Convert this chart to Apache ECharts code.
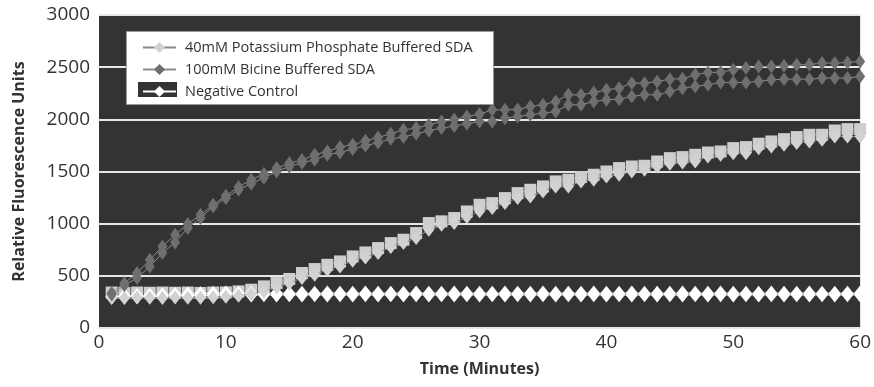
<!DOCTYPE html>
<html>
<head>
<meta charset="utf-8">
<script src="https://cdn.jsdelivr.net/npm/echarts@6/dist/echarts.min.js"></script>
<style>
  html, body { margin: 0; padding: 0; background: #fff; }
  #chart { width: 874px; height: 387px; }
</style>
</head>
<body>
<div id="chart"></div>
<script>
// sampling times (minutes)
const minutes = [1, 2, 3, 4, 5, 6, 7, 8, 9, 10, 11, 12, 13, 14, 15, 16, 17, 18, 19, 20,
  21, 22, 23, 24, 25, 26, 27, 28, 29, 30, 31, 32, 33, 34, 35, 36, 37, 38, 39, 40,
  41, 42, 43, 44, 45, 46, 47, 48, 49, 50, 51, 52, 53, 54, 55, 56, 57, 58, 59, 60];

// 40mM Potassium Phosphate Buffered SDA (two replicates)
const phosphateDiamond = [290, 288, 292, 290, 288, 292, 290, 290, 295, 300, 310, 325, 350, 390, 430, 479, 511, 558, 590, 645,
  676, 718, 776, 814, 862, 942, 990, 1006, 1063, 1120, 1150, 1197, 1245, 1261, 1309, 1357, 1357, 1405, 1421, 1453,
  1469, 1500, 1516, 1548, 1574, 1587, 1596, 1644, 1660, 1676, 1676, 1724, 1740, 1756, 1772, 1788, 1804, 1836, 1836, 1836];
const phosphateSquare = [340, 335, 340, 338, 340, 338, 340, 336, 340, 341, 351, 367, 399, 431, 470, 527, 565, 606, 638, 686,
  724, 766, 814, 846, 910, 1006, 1022, 1054, 1117, 1181, 1197, 1245, 1293, 1325, 1357, 1405, 1421, 1447, 1469, 1500,
  1533, 1548, 1555, 1596, 1628, 1638, 1660, 1682, 1692, 1724, 1734, 1766, 1788, 1810, 1830, 1852, 1852, 1893, 1906, 1906];

// 100mM Bicine Buffered SDA (two replicates)
const bicineA = [335, 430, 527, 654, 782, 894, 996, 1085, 1181, 1267, 1351, 1421, 1478, 1533, 1580, 1610, 1660, 1692, 1734, 1756,
  1794, 1826, 1861, 1900, 1916, 1948, 1979, 1998, 2027, 2050, 2091, 2091, 2095, 2123, 2139, 2171, 2235, 2235, 2257, 2283,
  2299, 2347, 2347, 2363, 2385, 2390, 2427, 2449, 2452, 2475, 2491, 2507, 2507, 2513, 2523, 2525, 2539, 2540, 2545, 2555];
const bicineB = [320, 410, 479, 590, 718, 820, 958, 1054, 1165, 1245, 1325, 1382, 1440, 1500, 1548, 1585, 1612, 1660, 1683, 1715,
  1746, 1778, 1813, 1830, 1861, 1890, 1916, 1935, 1957, 1979, 1979, 2011, 2027, 2043, 2059, 2075, 2139, 2139, 2171, 2187,
  2193, 2219, 2235, 2235, 2267, 2299, 2315, 2331, 2353, 2353, 2353, 2363, 2379, 2385, 2385, 2385, 2395, 2395, 2395, 2411];

// Negative Control (two replicates)
const negativeA = [303, 308, 312, 315, 318, 322, 325, 328, 330, 335, 333, 334, 332, 335, 333, 334, 332, 335, 334, 333,
  335, 333, 334, 332, 335, 333, 334, 335, 333, 334, 332, 335, 334, 333, 335, 333, 334, 332, 335, 333,
  334, 335, 333, 334, 332, 335, 334, 333, 335, 333, 334, 332, 335, 333, 334, 335, 333, 334, 332, 335];
const negativeB = [295, 298, 300, 303, 305, 308, 310, 312, 314, 316, 318, 317, 318, 316, 318, 317, 318, 316, 318, 317,
  318, 316, 318, 317, 318, 316, 318, 317, 318, 316, 318, 317, 318, 316, 318, 317, 318, 316, 318, 317,
  318, 316, 318, 317, 318, 316, 318, 317, 318, 316, 318, 317, 318, 316, 318, 317, 318, 316, 318, 317];

const NAME_PHOSPHATE = '40mM Potassium Phosphate Buffered SDA';
const NAME_BICINE = '100mM Bicine Buffered SDA';
const NAME_NEGATIVE = 'Negative Control';

const FONT = '"Open Sans", "Noto Sans", sans-serif';

function pairs(values) {
  return minutes.map((m, i) => [m, values[i]]);
}

function lineSeries(name, values, symbol, size, color, lineColor, z) {
  return {
    name: name,
    type: 'line',
    z: z,
    data: pairs(values),
    symbol: symbol,
    symbolSize: size,
    itemStyle: { color: color },
    lineStyle: { color: lineColor, width: 1 },
    emphasis: { disabled: true },
    animation: false,
  };
}

const chart = echarts.init(document.getElementById('chart'));

chart.setOption({
  animation: false,
  grid: {
    left: 99,
    right: 11,
    top: 15,
    bottom: 59,
    show: true,
    backgroundColor: '#333333',
    borderWidth: 0,
  },
  legend: {
    orient: 'vertical',
    left: 126,
    top: 32,
    z: 10,
    padding: [8, 20, 8, 16],
    itemGap: 7,
    itemWidth: 33,
    itemHeight: 14,
    textStyle: { fontFamily: FONT, fontSize: 14.5, color: '#333', padding: [0, 0, 0, 4] },
    data: [NAME_PHOSPHATE, NAME_BICINE, NAME_NEGATIVE],
  },
  graphic: [
    {
      type: 'rect',
      z: 8,
      shape: { x: 126.5, y: 31.5, width: 367, height: 73 },
      style: { fill: '#ffffff', stroke: '#999999', lineWidth: 1 },
    },
    {
      type: 'rect',
      z: 9,
      shape: { x: 138, y: 82, width: 39, height: 15 },
      style: { fill: '#333333' },
    },
  ],
  xAxis: {
    type: 'value',
    min: 0,
    max: 60,
    interval: 10,
    name: 'Time (Minutes)',
    nameLocation: 'middle',
    nameGap: 33,
    nameTextStyle: { fontFamily: FONT, fontSize: 16, fontWeight: 'bold', color: '#333' },
    axisLine: { show: false },
    axisTick: { show: false },
    splitLine: { show: false },
    axisLabel: { fontFamily: FONT, fontSize: 19, color: '#333', margin: 5 },
  },
  yAxis: {
    type: 'value',
    min: 0,
    max: 3000,
    interval: 500,
    name: 'Relative Fluorescence Units',
    nameLocation: 'middle',
    nameGap: 72,
    nameTextStyle: { fontFamily: FONT, fontSize: 16, fontWeight: 'bold', color: '#333' },
    axisLine: { show: false },
    axisTick: { show: false },
    splitLine: { lineStyle: { color: '#e6e6e6', width: 2 } },
    axisLabel: {
      fontFamily: FONT,
      fontSize: 19,
      color: '#333',
      margin: 9,
      formatter: (value) => String(value),
    },
  },
  // listed diamond-first so the legend picks the diamond icon; z keeps the drawing order
  series: [
    lineSeries(NAME_PHOSPHATE, phosphateDiamond, 'diamond', [11, 14], '#d2d2d2', '#8a8a8a', 4),
    lineSeries(NAME_PHOSPHATE, phosphateSquare, 'rect', [12, 12], '#cecece', '#8a8a8a', 2),
    lineSeries(NAME_NEGATIVE, negativeB, 'diamond', [12, 15], '#ffffff', '#ffffff', 3),
    lineSeries(NAME_NEGATIVE, negativeA, 'diamond', [12, 15], '#ffffff', '#ffffff', 3),
    lineSeries(NAME_BICINE, bicineA, 'diamond', [10, 14], '#6f6f6f', '#8c8c8c', 5),
    lineSeries(NAME_BICINE, bicineB, 'diamond', [10, 14], '#6f6f6f', '#8c8c8c', 5),
  ],
});
</script>
</body>
</html>
